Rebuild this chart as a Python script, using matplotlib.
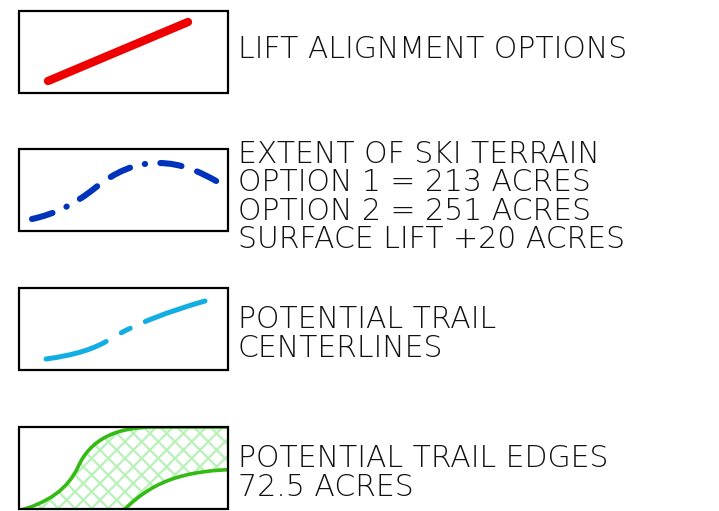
import matplotlib
matplotlib.use("Agg")
import matplotlib.pyplot as plt
from matplotlib.patches import Rectangle, PathPatch
from matplotlib.path import Path

# legend entries: label lines for each swatch
labels = [
    ["LIFT ALIGNMENT OPTIONS"],
    ["EXTENT OF SKI TERRAIN", "OPTION 1 = 213 ACRES",
     "OPTION 2 = 251 ACRES", "SURFACE LIFT +20 ACRES"],
    ["POTENTIAL TRAIL", "CENTERLINES"],
    ["POTENTIAL TRAIL EDGES", "72.5 ACRES"],
]

# swatch geometry in pixel coords (y down); curves are cubic bezier
# points: start, then (ctrl1, ctrl2, end) per segment
lift_x = [48, 188]
lift_y = [81, 22]

terrain_pts = [(32, 219),
               (55, 214), (75, 204), (95, 188),
               (115, 172), (135, 163), (158, 163),
               (182, 163), (200, 172), (218, 182)]

center_pts = [(46, 359),
              (75, 355), (95, 349), (112, 338),
              (135, 324), (170, 311), (205, 301)]

edge_up_pts = [(14, 512),
               (50, 503), (68, 488), (78, 467),
               (90, 440), (115, 427), (155, 427),
               (190, 427), (230, 427), (245, 427)]
edge_lo_pts = [(118, 516),
               (150, 482), (180, 470), (245, 469)]

boxes_top = [11, 149, 288, 427]
text_baselines = [[58], [163, 191, 220, 248], [328, 357], [467, 496]]


def bez(pts):
    codes = [Path.MOVETO] + [Path.CURVE4] * (len(pts) - 1)
    return Path(pts, codes)


W, H = 719, 511
fig = plt.figure(figsize=(W / 100, H / 100), dpi=100)
ax = fig.add_axes([0, 0, 1, 1])
ax.set_xlim(0, W)
ax.set_ylim(H, 0)
ax.axis("off")

rects = []
for top in boxes_top:
    r = Rectangle((19, top), 209, 82, fill=False, edgecolor="black", lw=1.6, zorder=5)
    ax.add_patch(r)
    rects.append(Rectangle((19, top), 209, 82, transform=ax.transData))

# lift alignment
ax.plot(lift_x, lift_y, color="#ee0000", lw=6, solid_capstyle="round")

# extent of ski terrain: dash - dot - dash
ax.add_patch(PathPatch(bez(terrain_pts), fill=False, edgecolor="#0033bb", lw=4.4,
                       capstyle="round",
                       linestyle=(0, [3.5, 2.5, 0.05, 2.5, 3.5, 2.7])))

# potential trail centerlines
ax.add_patch(PathPatch(bez(center_pts), fill=False, edgecolor="#12aee3", lw=3.6,
                       capstyle="round",
                       linestyle=(0, [12.6, 3.5, 2.0, 3.3, 40])))

# potential trail edges with hatched fill
lo_rev = edge_lo_pts[::-1]
fill_pts = edge_up_pts + [(245, 420), (245, 469)] + lo_rev[1:] + [(14, 516), (14, 512)]
fill_codes = ([Path.MOVETO] + [Path.CURVE4] * (len(edge_up_pts) - 1)
              + [Path.LINETO, Path.LINETO] + [Path.CURVE4] * (len(lo_rev) - 1)
              + [Path.LINETO, Path.CLOSEPOLY])
plt.rcParams["hatch.linewidth"] = 1.6
hp = PathPatch(Path(fill_pts, fill_codes), facecolor="none", edgecolor="#b8f2b8",
               hatch="xx", lw=0)
ax.add_patch(hp)
hp.set_clip_path(rects[3])
for pts in [edge_up_pts, edge_lo_pts]:
    p = PathPatch(bez(pts), fill=False, edgecolor="#33bb14", lw=2.6)
    ax.add_patch(p)
    p.set_clip_path(rects[3])

for lines, bases in zip(labels, text_baselines):
    for s, yb in zip(lines, bases):
        ax.text(238, yb, s, fontsize=21.5, family="DejaVu Sans",
                fontweight="light", va="baseline", ha="left", color="#111111")

fig.savefig("out.png", dpi=100)
